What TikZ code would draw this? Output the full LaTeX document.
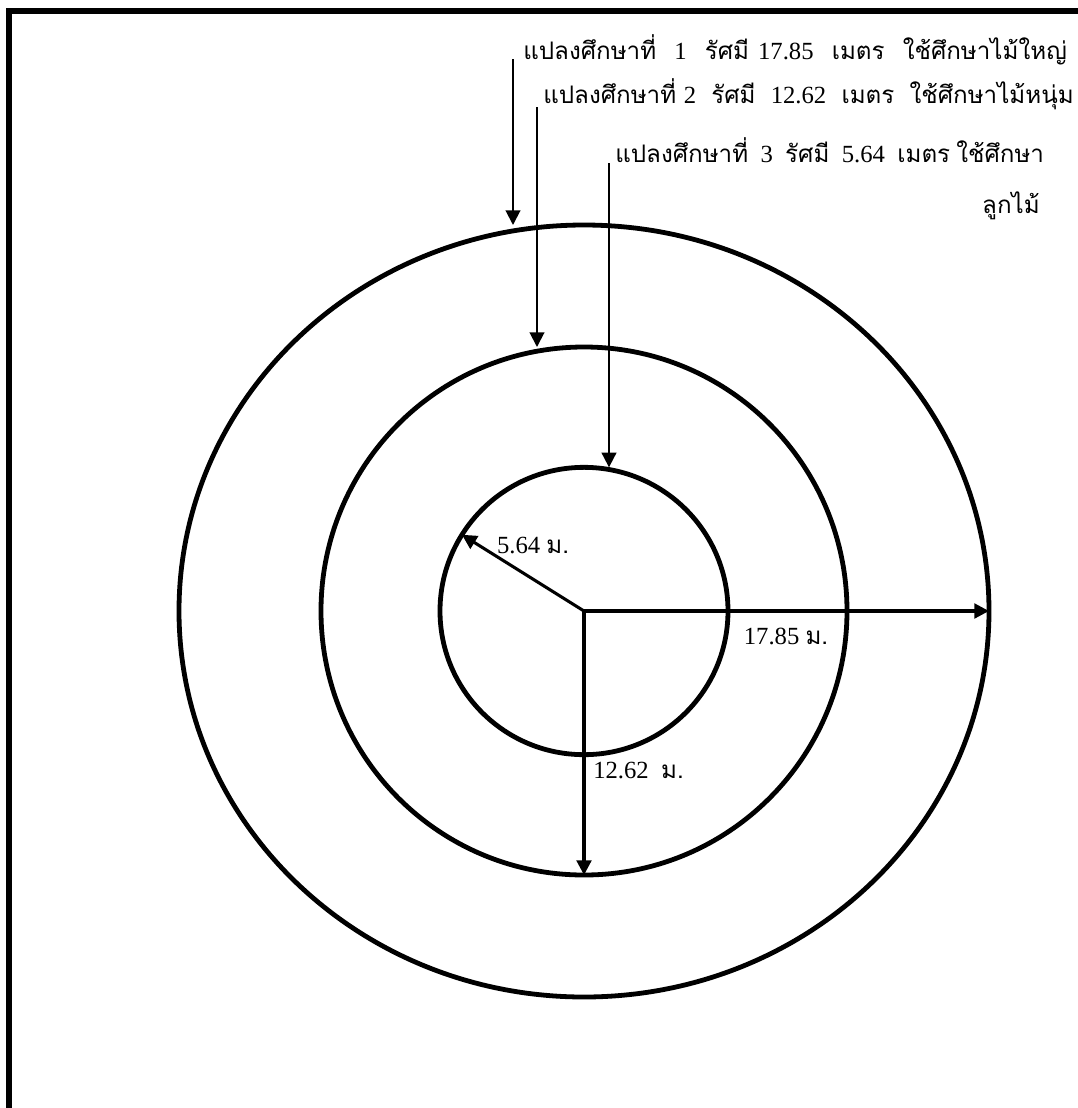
\documentclass[tikz,border=0pt]{standalone}
\usepackage{fontspec}
\setmainfont{Liberation Serif}
\newfontfamily\thaifont[Script=Thai,Scale=0.98]{Loma}
\newcommand{\tw}[1]{{\thaifont #1}}
\newcommand{\widesp}[1]{\spaceskip #1\relax}
\usetikzlibrary{shapes.geometric,arrows.meta}

\begin{document}
\begin{tikzpicture}[
			x=0.75pt, y=-0.75pt,
			ring/.style={draw, ellipse, line width=3.6pt, inner sep=0pt, outer sep=0pt},
			frame/.style={line width=4.5pt},
			arr/.style={-{Triangle[length=11pt,width=11pt]}, line width=2.3pt},
			ptr/.style={-{Triangle[length=11pt,width=11pt]}, line width=1.5pt},
			lbl/.style={inner sep=0pt, font=\fontsize{18.5}{22}\selectfont},
			wide/.style={lbl, font=\fontsize{18.5}{22}\selectfont\widesp{#1}}
		]
			\useasboundingbox (0,0) rectangle (1078,1108);
			\draw[frame] (9,1125) -- (9,11) -- (1095,11);
			\coordinate (c) at (584,611);
			\node[ring, minimum width=607.5pt, minimum height=579pt] (outer) at (c) {};
			\node[ring, minimum width=394.5pt, minimum height=396pt] (middle) at (c) {};
			\node[ring, minimum width=216pt, minimum height=215.5pt] (inner) at (c) {};
			\node[wide=6.8pt, anchor=base west] (t1) at (523,59) {\tw{แปลงศึกษาที่}~~1~~\tw{รัศมี}~17.85~~\tw{เมตร}~~\tw{ใช้ศึกษาไม้ใหญ่}};
			\node[wide=5.7pt, anchor=base west] (t2) at (543,103) {\tw{แปลงศึกษาที่}~2~~\tw{รัศมี}~~12.62~~\tw{เมตร}~~\tw{ใช้ศึกษาไม้หนุ่ม}};
			\node[lbl, anchor=base west] (t3) at (615,162) {\tw{แปลงศึกษาที่}~~3~~\tw{รัศมี}~~5.64~~\tw{เมตร}~\tw{ใช้ศึกษา}};
			\node[lbl, anchor=base east] (t4) at (1040,213) {\tw{ลูกไม้}};
			\draw[ptr] ([xshift=-7.5pt]t1.base west) coordinate (s1) -- (s1 |- outer.north);
			\draw[ptr] ([xshift=-4.5pt,yshift=-3pt]t2.base west) coordinate (s2) -- (s2 |- middle.north);
			\draw[ptr] ([xshift=-4.5pt,yshift=-1pt]t3.base west) coordinate (s3) -- (s3 |- inner.north);
			\draw[arr] (c) -- (outer.east);
			\draw[arr] (c) -- (middle.south);
			\draw[arr] (c) -- (inner.148);
			\node[lbl] (r1) at (786,636) {17.85 \tw{ม.}};
			\node[lbl, anchor=west] (r2) at (593,770) {12.62~~\tw{ม.}};
			\node[lbl] (r3) at (533,545) {5.64 \tw{ม.}};
		\end{tikzpicture}
\end{document}
